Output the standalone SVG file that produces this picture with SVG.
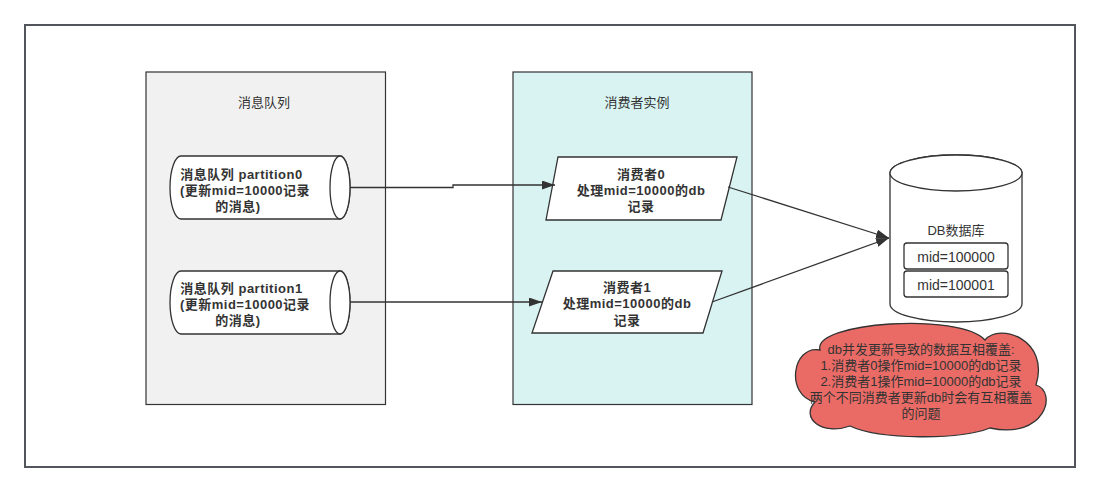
<svg xmlns="http://www.w3.org/2000/svg" width="1100" height="493" viewBox="0 0 1100 493">
<style>
text{font-family:"Liberation Sans","Noto Sans CJK SC",sans-serif;font-size:13px;fill:#333;text-anchor:middle}
.b{font-weight:bold;letter-spacing:0.5px}
.shape{fill:#fff;stroke:#333;stroke-width:1.3}
.cont{stroke:#333;stroke-width:1.2}
.edge{fill:none;stroke:#333;stroke-width:1.3}
</style>
<defs>
<marker id="arr" markerUnits="userSpaceOnUse" markerWidth="14" markerHeight="10" refX="13" refY="4.5" orient="auto">
<path d="M0,0 L13,4.5 L0,9 Z" fill="#333"/>
</marker>
</defs>
<rect x="0" y="0" width="1100" height="493" fill="#fff"/>
<g id="frame"><rect x="25" y="25" width="1050" height="442" fill="#fff" stroke="#52565c" stroke-width="2"/></g>
<g id="mq-container">
<rect class="cont" x="146" y="72" width="239.5" height="332.5" fill="#f1f1f1"/>
<text x="264" y="106.5">消息队列</text>
</g>
<g id="consumer-container">
<rect class="cont" x="513" y="72" width="239" height="332.5" fill="#d9f3f3"/>
<text x="637" y="106.5">消费者实例</text>
</g>
<g id="partition0">
<path class="shape" d="M181,156 L340,156 A10,31.5 0 0 1 340,219 L181,219 A11,31.5 0 0 1 181,156 Z"/>
<ellipse class="shape" cx="340" cy="187.5" rx="10" ry="31.5" fill="none"/>
<text class="b" x="241.5" y="179">消息队列 partition0</text>
<text class="b" x="245" y="195">(更新mid=10000记录</text>
<text class="b" x="238" y="211">的消息)</text>
</g>
<g id="partition1">
<path class="shape" d="M181,271 L340,271 A10,31.5 0 0 1 340,334 L181,334 A11,31.5 0 0 1 181,271 Z"/>
<ellipse class="shape" cx="340" cy="302.5" rx="10" ry="31.5" fill="none"/>
<text class="b" x="241.5" y="293">消息队列 partition1</text>
<text class="b" x="245" y="309">(更新mid=10000记录</text>
<text class="b" x="238" y="325">的消息)</text>
</g>
<g id="consumer0">
<polygon class="shape" points="558,157 737,157 721,220 546,220"/>
<text class="b" x="641" y="179">消费者0</text>
<text class="b" x="641" y="195">处理mid=10000的db</text>
<text class="b" x="641" y="211">记录</text>
</g>
<g id="consumer1">
<polygon class="shape" points="553,271 722,271 703,333 532,333"/>
<text class="b" x="627" y="292">消费者1</text>
<text class="b" x="627" y="308">处理mid=10000的db</text>
<text class="b" x="627" y="325">记录</text>
</g>
<g id="db">
<path class="shape" d="M890,173 L890,304 A66,18 0 0 0 1022,304 L1022,173 A66,18 0 0 0 890,173 Z"/>
<ellipse class="shape" cx="956" cy="173" rx="66" ry="18" fill="none"/>
<text x="956" y="235">DB数据库</text>
<rect class="shape" x="904" y="243" width="104" height="26" rx="3"/>
<text x="956" y="261.5" style="font-size:14px">mid=100000</text>
<rect class="shape" x="904" y="271" width="104" height="26" rx="3"/>
<text x="956" y="289.5" style="font-size:14px">mid=100001</text>
</g>
<g id="note">
<path d="M820,350 C812,322 960,312 985,340 C1000,322 1050,340 1036,385 C1058,392 1045,440 990,428 C960,440 880,440 850,426 C822,436 800,418 815,402 C785,395 792,345 820,350 Z" fill="#ea6b66" stroke="#333" stroke-width="1.3"/>
<text x="921" y="353.5">db并发更新导致的数据互相覆盖:</text>
<text x="921" y="369.5">1.消费者0操作mid=10000的db记录</text>
<text x="921" y="385.5">2.消费者1操作mid=10000的db记录</text>
<text x="921" y="401.5">两个不同消费者更新db时会有互相覆盖</text>
<text x="921" y="417.5">的问题</text>
</g>
<g id="connectors">
<polyline class="edge" points="350,187.5 453,187.5 453,185 555,185" marker-end="url(#arr)"/>
<line class="edge" x1="350" y1="302" x2="542" y2="302" marker-end="url(#arr)"/>
<line class="edge" x1="728" y1="187" x2="889" y2="238" marker-end="url(#arr)"/>
<line class="edge" x1="712" y1="302" x2="889" y2="238" marker-end="url(#arr)"/>
</g>
</svg>
